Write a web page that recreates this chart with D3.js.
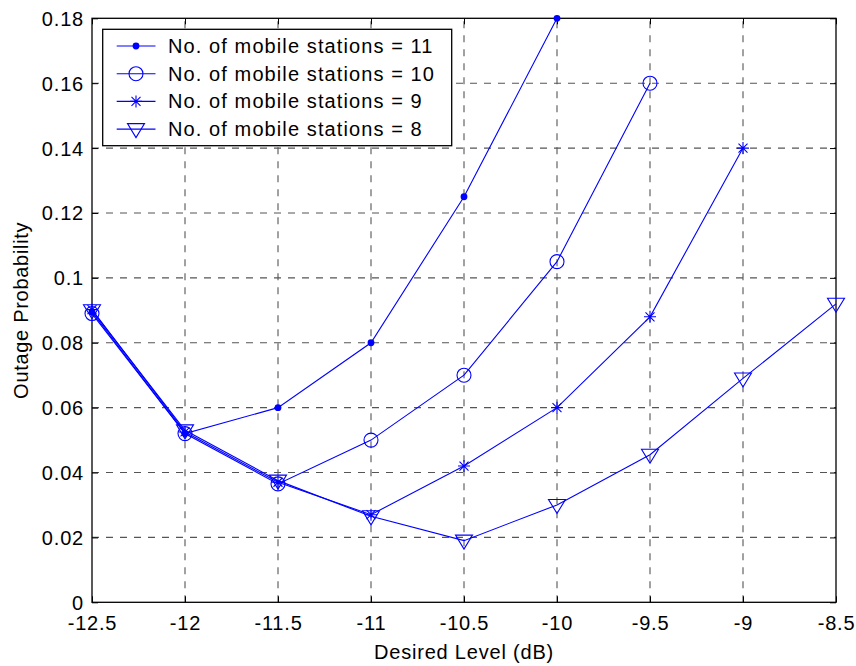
<!DOCTYPE html>
<html>
<head>
<meta charset="utf-8">
<script src="https://cdn.jsdelivr.net/npm/d3@7/dist/d3.min.js"></script>
<style>
  html, body { margin: 0; padding: 0; background: #fff; }
  svg { display: block; }
  text { font-family: "Liberation Sans", Arial, Helvetica, sans-serif; fill: #000; }
</style>
</head>
<body>
<svg id="chart" width="856" height="666"></svg>
<script>
// ---- data ----
const xTicks = [-12.5, -12, -11.5, -11, -10.5, -10, -9.5, -9, -8.5];
const xTickLabels = ["-12.5", "-12", "-11.5", "-11", "-10.5", "-10", "-9.5", "-9", "-8.5"];
const yTicks = [0, 0.02, 0.04, 0.06, 0.08, 0.1, 0.12, 0.14, 0.16, 0.18];
const yTickLabels = ["0", "0.02", "0.04", "0.06", "0.08", "0.1", "0.12", "0.14", "0.16", "0.18"];

const x11 = [-12.5, -12, -11.5, -11, -10.5, -10];
const y11 = [0.0895, 0.052, 0.060, 0.080, 0.125, 0.180];
const x10 = [-12.5, -12, -11.5, -11, -10.5, -10, -9.5];
const y10 = [0.089, 0.052, 0.0365, 0.050, 0.070, 0.105, 0.160];
const x9 = [-12.5, -12, -11.5, -11, -10.5, -10, -9.5, -9];
const y9 = [0.0902, 0.0525, 0.037, 0.027, 0.042, 0.060, 0.088, 0.140];
const x8 = [-12.5, -12, -11.5, -11, -10.5, -10, -9.5, -9, -8.5];
const y8 = [0.090, 0.053, 0.0375, 0.0265, 0.019, 0.030, 0.0455, 0.069, 0.092];

const seriesNames = [
  "No. of mobile stations = 11",
  "No. of mobile stations = 10",
  "No. of mobile stations = 9",
  "No. of mobile stations = 8"
];
const markerTypes = ["dot", "circle", "star", "triangle"];
const xLabel = "Desired Level (dB)";
const yLabel = "Outage Probability";

// ---- layout ----
const L = 92, R = 836, T = 18.3, B = 602.3;
const blue = "#0000ff";
const gridColor = "#555";
const LS = "0.8px";

const svg = d3.select("#chart");
const x = d3.scaleLinear().domain([-12.5, -8.5]).range([L, R]);
const y = d3.scaleLinear().domain([0, 0.18]).range([B, T]);

// grid
const g = svg.append("g");
g.selectAll("line.gx").data(xTicks.slice(1, -1)).join("line")
  .attr("x1", d => x(d)).attr("x2", d => x(d))
  .attr("y1", B).attr("y2", T)
  .attr("stroke", gridColor).attr("stroke-width", 1.1)
  .attr("stroke-dasharray", "7,7");
g.selectAll("line.gy").data(yTicks.slice(1, -1)).join("line")
  .attr("x1", L).attr("x2", R)
  .attr("y1", d => y(d)).attr("y2", d => y(d))
  .attr("stroke", gridColor).attr("stroke-width", 1.1)
  .attr("stroke-dasharray", "7,7");

// axes with inward ticks
const tl = 6;
const axB = d3.axisBottom(x).tickValues(xTicks).tickSize(-tl).tickPadding(tl + 8)
  .tickFormat((d, i) => xTickLabels[i]);
const axT = d3.axisTop(x).tickValues(xTicks).tickSize(-tl).tickFormat("");
const axL = d3.axisLeft(y).tickValues(yTicks).tickSize(-tl).tickPadding(tl + 2)
  .tickFormat((d, i) => yTickLabels[i]);
const axR = d3.axisRight(y).tickValues(yTicks).tickSize(-tl).tickFormat("");

function styleAxis(sel) {
  sel.select(".domain").remove();
  sel.selectAll(".tick line").attr("stroke", "#000").attr("stroke-width", 1);
  sel.selectAll(".tick text").attr("font-size", 20).attr("fill", "#000")
    .attr("font-family", "Liberation Sans, Arial, sans-serif")
    .style("letter-spacing", LS);
}
svg.append("g").attr("transform", `translate(0,${B})`).call(axB).call(styleAxis);
svg.append("g").attr("transform", `translate(0,${T})`).call(axT).call(styleAxis);
svg.append("g").attr("transform", `translate(${L},0)`).call(axL).call(styleAxis)
  .selectAll(".tick text").attr("dy", "0.35em");
svg.append("g").attr("transform", `translate(${R},0)`).call(axR).call(styleAxis);

// frame
svg.append("rect").attr("x", L).attr("y", T).attr("width", R - L).attr("height", B - T)
  .attr("fill", "none").attr("stroke", "#000").attr("stroke-width", 1.3);

// markers
function drawMarker(sel, type) {
  if (type === "dot") {
    sel.append("circle").attr("r", 3.4).attr("fill", blue).attr("stroke", "none");
  } else if (type === "circle") {
    sel.append("circle").attr("r", 7).attr("fill", "none").attr("stroke", blue).attr("stroke-width", 1.1);
  } else if (type === "star") {
    sel.append("path").attr("d", "M-6,0H6M0,-6V6M-4.5,-4.5L4.5,4.5M-4.5,4.5L4.5,-4.5")
      .attr("fill", "none").attr("stroke", blue).attr("stroke-width", 1.1);
  } else {
    sel.append("path").attr("d", "M-8.5,-5.5L8.5,-5.5L0,8.5Z")
      .attr("fill", "none").attr("stroke", blue).attr("stroke-width", 1.1);
  }
}

const allSeries = [
  {xs: x11, ys: y11}, {xs: x10, ys: y10}, {xs: x9, ys: y9}, {xs: x8, ys: y8}
];
const line = d3.line().x(d => x(d[0])).y(d => y(d[1]));
allSeries.forEach((s, k) => {
  const pts = s.xs.map((v, i) => [v, s.ys[i]]);
  svg.append("path").attr("d", line(pts)).attr("fill", "none")
    .attr("stroke", blue).attr("stroke-width", 1.1);
  svg.append("g").selectAll("g").data(pts).join("g")
    .attr("transform", d => `translate(${x(d[0])},${y(d[1])})`)
    .each(function () { drawMarker(d3.select(this), markerTypes[k]); });
});

// legend
const lg = svg.append("g");
lg.append("rect").attr("x", 102.7).attr("y", 29.3).attr("width", 349).attr("height", 116.4)
  .attr("fill", "#fff").attr("stroke", "#000").attr("stroke-width", 1.3);
seriesNames.forEach((name, i) => {
  const cy = 46 + i * 27.7;
  lg.append("line").attr("x1", 116.7).attr("x2", 155.5).attr("y1", cy).attr("y2", cy)
    .attr("stroke", blue).attr("stroke-width", 1.1);
  const m = lg.append("g").attr("transform", `translate(136,${cy})`);
  drawMarker(m, markerTypes[i]);
  lg.append("text").attr("x", 168).attr("y", cy + 7).attr("font-size", 20)
    .style("letter-spacing", "1.1px").text(name);
});

// axis labels
svg.append("text").attr("x", (L + R) / 2).attr("y", 659).attr("text-anchor", "middle")
  .attr("font-size", 20).style("letter-spacing", "0.8px").text(xLabel);
svg.append("text").attr("transform", `translate(28,${(T + B) / 2}) rotate(-90)`)
  .attr("text-anchor", "middle").attr("font-size", 20).style("letter-spacing", "0.7px").text(yLabel);
</script>
</body>
</html>
